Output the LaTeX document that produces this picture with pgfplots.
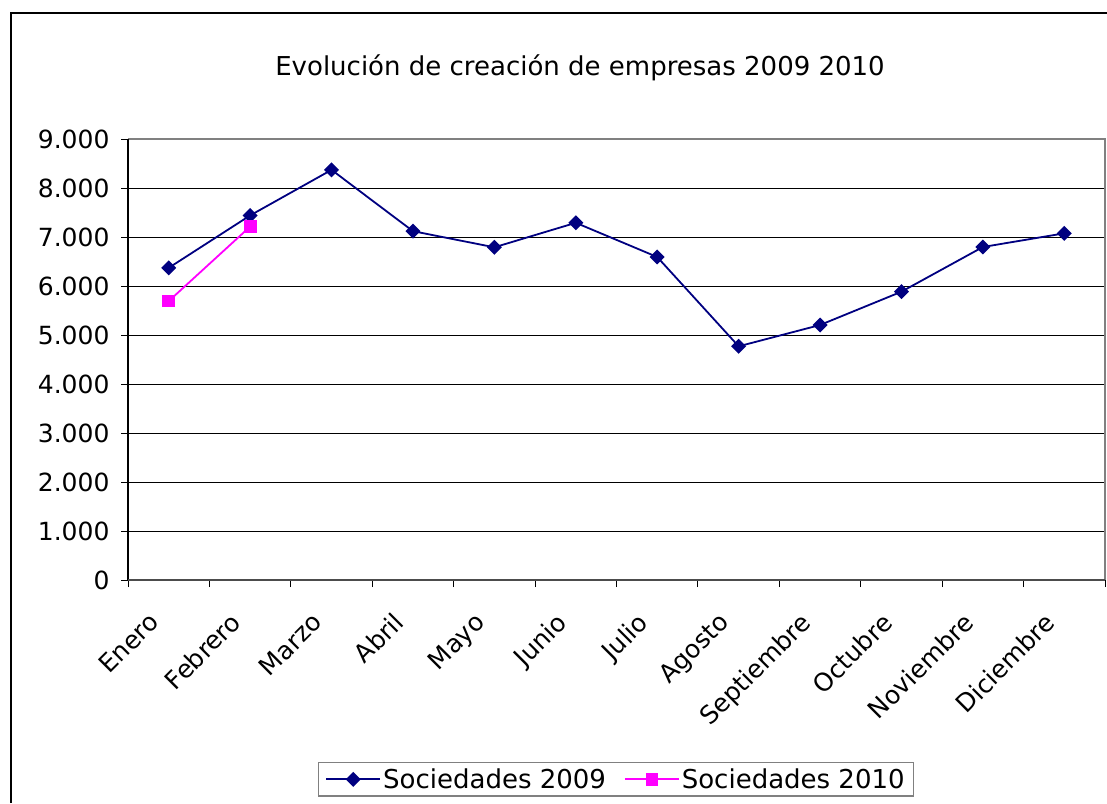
\documentclass[border=0pt]{standalone}
\usepackage{pgfplots}
\pgfplotsset{compat=1.18}
\usepackage{fontspec}
\setmainfont{DejaVu Sans}
\definecolor{navy}{RGB}{0,0,128}
\definecolor{mag}{RGB}{255,0,255}
\begin{document}
\begin{tikzpicture}[x=1pt,y=1pt]
\draw[line width=2pt] (11,0) -- (11,790) -- (1110,790);
\node[font=\fontsize{26}{30}\selectfont] at (580,735) {Evolución de creación de empresas 2009 2010};
\begin{axis}[
  at={(128pt,223pt)}, anchor=south west,
  width=977pt, height=441pt, scale only axis,
  xmin=-0.5, xmax=11.5, ymin=0, ymax=9000,
  ytick={0,1000,...,9000},
  xtick={0,...,11},
  xticklabels={Enero,Febrero,Marzo,Abril,Mayo,Junio,Julio,Agosto,Septiembre,Octubre,Noviembre,Diciembre},
  minor xtick={-0.5,0.5,...,11.5},
  major x tick style={draw=none},
  minor tick length=7pt,
  major tick length=7pt,
  tick align=outside,
  tick style={black, line width=1pt},
  xtick pos=bottom, ytick pos=left,
  ymajorgrids, grid style={black, line width=1pt},
  axis line style={draw=none},
  ticklabel style={font=\fontsize{25}{29}\selectfont},
  /pgf/number format/.cd, 1000 sep={.}, assume math mode=true,
  /pgfplots/.cd,
  y tick label style={xshift=-8pt},
  x tick label style={xshift=-21pt, yshift=-19pt, rotate=45, anchor=north east},
  legend style={at={(0.4995,-0.452)}, anchor=center, legend columns=2,
    draw=gray, line width=1.2pt, font=\fontsize{26}{30}\selectfont,
    inner ysep=4pt, inner xsep=7pt,
    /tikz/every even column/.append style={column sep=16pt}},
  legend image code/.code={\draw[#1, mark repeat=2, mark phase=2] plot coordinates {(0pt,0pt) (27pt,0pt) (54pt,0pt)};},
  legend cell align=left,
  clip=false,
]
\draw[gray, line width=1.2pt] (axis cs:-0.5,9000) -- (axis cs:11.5,9000) -- (axis cs:11.5,0);
\draw[black, line width=1.5pt] (axis cs:-0.5,0) -- (axis cs:-0.5,9000);
\draw[black!70, line width=1.5pt] (axis cs:-0.5,0) -- (axis cs:11.5,0);
\addplot[navy, line width=1.8pt, mark=square*, mark size=4.4pt, mark options={fill=navy, rotate=45}]
  coordinates {(0,6370) (1,7440) (2,8370) (3,7119) (4,6790) (5,7290) (6,6592) (7,4769) (8,5204) (9,5884) (10,6796) (11,7075)};
\addlegendentry{Sociedades 2009}
\addplot[mag, line width=1.8pt, mark=square*, mark size=5.5pt, mark options={fill=mag}]
  coordinates {(0,5692) (1,7212)};
\addlegendentry{Sociedades 2010}
\end{axis}
\pgfresetboundingbox
\useasboundingbox (0,0) rectangle (1107,803);
\end{tikzpicture}
\end{document}
